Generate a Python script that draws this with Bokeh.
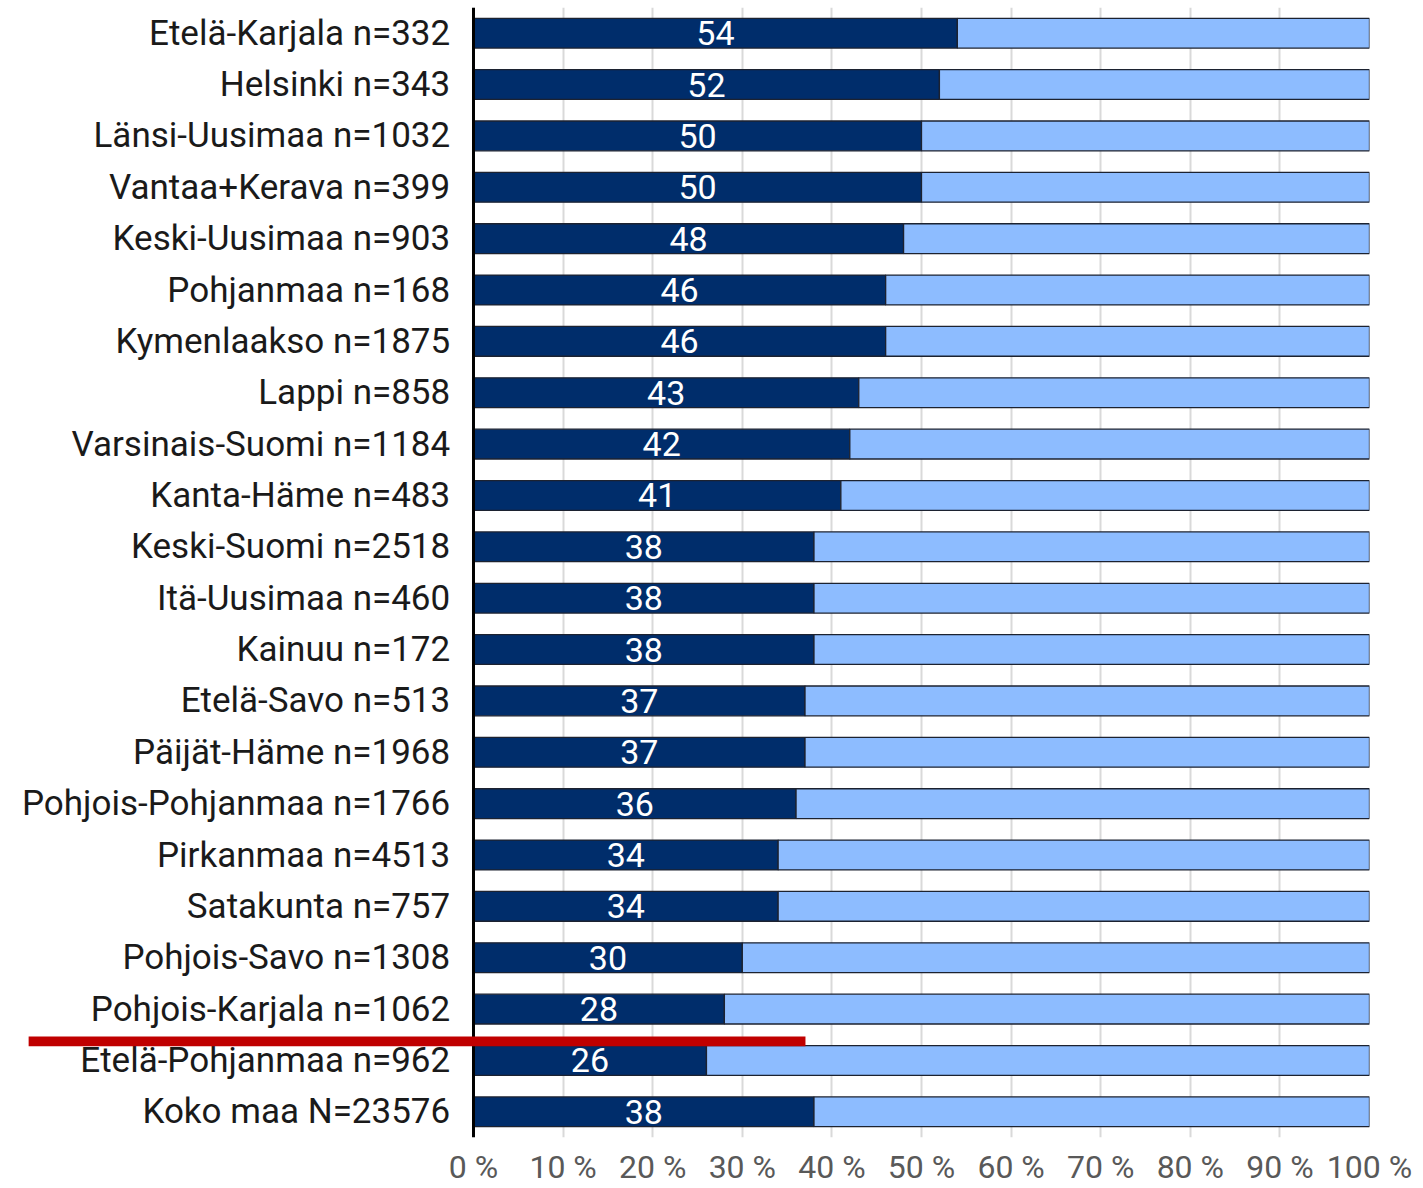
from bokeh.plotting import figure
from bokeh.models import FactorRange, Range1d, ColumnDataSource, FixedTicker, BoxAnnotation, Span
from bokeh.embed import file_html
from bokeh.resources import INLINE
from bokeh.core.properties import value

regions = [
    "Etelä-Karjala n=332", "Helsinki n=343", "Länsi-Uusimaa n=1032",
    "Vantaa+Kerava n=399", "Keski-Uusimaa n=903", "Pohjanmaa n=168",
    "Kymenlaakso n=1875", "Lappi n=858", "Varsinais-Suomi n=1184",
    "Kanta-Häme n=483", "Keski-Suomi n=2518", "Itä-Uusimaa n=460",
    "Kainuu n=172", "Etelä-Savo n=513", "Päijät-Häme n=1968",
    "Pohjois-Pohjanmaa n=1766", "Pirkanmaa n=4513", "Satakunta n=757",
    "Pohjois-Savo n=1308", "Pohjois-Karjala n=1062", "Etelä-Pohjanmaa n=962",
    "Koko maa N=23576",
]
share = [54, 52, 50, 50, 48, 46, 46, 43, 42, 41, 38, 38, 38, 37, 37, 36, 34, 34, 30, 28, 26, 38]
rest = [46, 48, 50, 50, 52, 54, 54, 57, 58, 59, 62, 62, 62, 63, 63, 64, 66, 66, 70, 72, 74, 62]
tick_values = [0, 10, 20, 30, 40, 50, 60, 70, 80, 90, 100]
tick_labels = ["0 %", "10 %", "20 %", "30 %", "40 %", "50 %", "60 %", "70 %", "80 %", "90 %", "100 %"]

DARK = "#002D6B"
LIGHT = "#8DBCFF"
FONT = "Roboto"

src = ColumnDataSource(dict(
    region=regions,
    share=share,
    rest=rest,
    mid=[v / 2 for v in share],
    txt=[str(v) for v in share],
    lab_x=[-2.6] * len(regions),
))

p = figure(
    width=1420, height=1188,
    y_range=FactorRange(factors=list(reversed(regions))),
    x_range=Range1d(-52.79, 100),
    output_backend="svg", toolbar_location=None,
    min_border_left=0, min_border_right=51, min_border_top=7, min_border_bottom=49,
)

p.hbar_stack(["share", "rest"], y="region", height=0.58, color=[DARK, LIGHT],
             line_color="#1c2230", line_width=1.3, source=src)

p.text(x="mid", y="region", text="txt", source=src, text_color="white",
       text_font=value(FONT), text_font_size="34px",
       text_align="center", text_baseline="middle")

# category labels
p.text(x="lab_x", y="region", text="region", source=src, text_color="#1A1A1A",
       text_font=value(FONT), text_font_size="35px",
       text_align="right", text_baseline="middle")

# vertical axis line at 0 %
p.add_layout(Span(location=0, dimension="height", line_color="black", line_width=3))

# red separator line
p.add_layout(BoxAnnotation(left=-49.65, right=37.05, top=1.965, bottom=1.775,
                           fill_color="#C00000", fill_alpha=1.0, line_color=None,
                           level="overlay"))

p.outline_line_color = None
p.ygrid.grid_line_color = None
p.yaxis.visible = False
p.xgrid.grid_line_color = "#D9D9D9"
p.xgrid.grid_line_width = 2
p.xgrid.ticker = FixedTicker(ticks=tick_values)
p.xaxis.ticker = FixedTicker(ticks=tick_values)
p.xaxis.major_label_overrides = {v: t for v, t in zip(tick_values, tick_labels)}
p.xaxis.axis_line_color = None
p.xaxis.major_tick_line_color = None
p.xaxis.minor_tick_line_color = None
p.xaxis.major_tick_out = 0
p.xaxis.major_tick_in = 0
p.xaxis.major_label_standoff = 10
p.xaxis.major_label_text_font = FONT
p.xaxis.major_label_text_font_size = "32px"
p.xaxis.major_label_text_color = "#595959"

open("out.html", "w").write(file_html(p, INLINE))
